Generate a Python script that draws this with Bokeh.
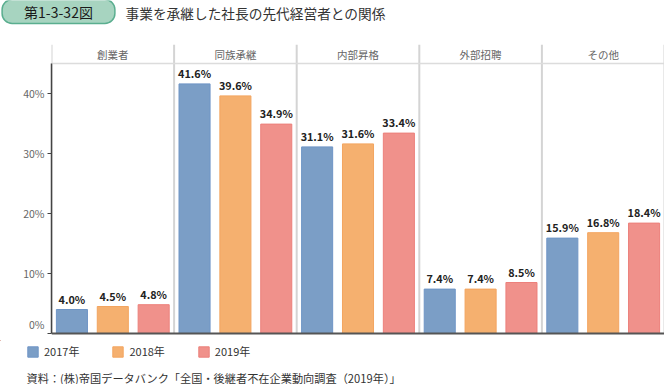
from bokeh.plotting import figure
from bokeh.layouts import column
from bokeh.models import (FactorRange, Range1d, FixedTicker, Label, Legend,
                          LegendItem, ColumnDataSource)
from bokeh.core.properties import value
from bokeh.embed import file_html
from bokeh.resources import INLINE

# ---- data ----
categories = ['創業者', '同族承継', '内部昇格', '外部招聘', 'その他']
years = ['2017年', '2018年', '2019年']
v2017 = [4.0, 41.6, 31.1, 7.4, 15.9]
v2018 = [4.5, 39.6, 31.6, 7.4, 16.8]
v2019 = [4.8, 34.9, 33.4, 8.5, 18.4]
y_ticks = [0, 10, 20, 30, 40]
fig_label = '第1-3-32図'
title_text = '事業を承継した社長の先代経営者との関係'
source_text = '資料：(株)帝国データバンク「全国・後継者不在企業動向調査（2019年）」'

series = [v2017, v2018, v2019]
fills = ['#7b9ec6', '#f5b06f', '#f0918b']
lines = ['#6f95c6', '#f3a560', '#ec807b']

FONT = 'Noto Sans CJK JP'
W = 664
TOP_H, MAIN_H = 44, 296
BOT_H = 384 - TOP_H - MAIN_H
PX = 6.0                      # pixels per percent
Y_MAX = 45
HEADER = 19 / PX              # header band height in data units
Y_TOP = Y_MAX + HEADER
Y_BOT = Y_TOP - MAIN_H / PX   # a little room below zero


def blank(h, y0, y1):
    f = figure(width=W, height=h, output_backend='svg', toolbar_location=None,
               x_range=Range1d(0, W), y_range=Range1d(y0, y1),
               x_axis_type=None, y_axis_type=None,
               min_border_left=0, min_border_right=0, min_border_top=0,
               min_border_bottom=0, frame_align=False)
    f.outline_line_color = None
    f.xgrid.visible = False
    f.ygrid.visible = False
    return f


# ---------- title strip ----------
pt = blank(TOP_H, TOP_H, 0)
pt.add_layout(Label(x=58, y=11, text=fig_label, text_align='center',
                    text_baseline='middle', text_font=FONT, text_font_size='14px',
                    text_color='#1a1a1a', background_fill_color='#a7d4c0',
                    border_line_color='#5aae8f', border_line_width=1.5,
                    border_radius=10, padding=(22, 2)))
pt.add_layout(Label(x=125, y=12, text=title_text, text_align='left',
                    text_baseline='middle', text_font=FONT, text_font_size='13.7px',
                    text_color='#333333'))

# ---------- main chart ----------
p = figure(width=W, height=MAIN_H, output_backend='svg', toolbar_location=None,
           x_range=FactorRange(factors=[(c, y) for c in categories for y in years],
                               range_padding=0, group_padding=0, factor_padding=0,
                               subgroup_padding=0),
           y_range=Range1d(Y_BOT, Y_TOP),
           min_border_left=51, min_border_right=0, min_border_top=0,
           min_border_bottom=0, frame_align=False)
p.outline_line_color = None
p.xgrid.visible = False
p.ygrid.visible = False
p.xaxis.visible = False

n_slots = len(categories) * len(years)
bounds_x = [len(years) * k for k in range(len(categories) + 1)]
p.segment(x0=bounds_x, x1=bounds_x, y0=[0] * len(bounds_x), y1=[Y_TOP] * len(bounds_x),
          line_color='#d4d4d4', line_width=2)
p.segment(x0=[0], x1=[n_slots], y0=[Y_MAX], y1=[Y_MAX], line_color='#dcdcdc',
          line_width=1.5)

for j, vals in enumerate(series):
    src = ColumnDataSource(dict(x=[(c, years[j]) for c in categories], top=vals,
                                lab=[f'{v:.1f}%' for v in vals]))
    p.vbar(x='x', top='top', width=0.76, source=src, fill_color=fills[j],
           line_color=lines[j], line_width=1)
    p.text(x='x', y='top', text='lab', source=src, text_align='center',
           text_baseline='alphabetic', y_offset=-11, text_font=value(FONT),
           text_font_size='10.8px', text_font_style='bold', text_color='#222222')

p.segment(x0=[0], x1=[n_slots], y0=[0], y1=[0], line_color='#555555', line_width=2)

hsrc = ColumnDataSource(dict(x=[(c, years[1]) for c in categories],
                             y=[Y_MAX + HEADER / 2] * len(categories), t=categories))
p.text(x='x', y='y', text='t', source=hsrc, text_align='center', text_baseline='middle',
       text_font=value(FONT), text_font_size='10.5px', text_color='#666666')

ax = p.yaxis[0]
ax.ticker = FixedTicker(ticks=y_ticks)
ax.bounds = (0, Y_MAX)
ax.major_label_overrides = {t: (f'{t}%\n ' if t == 0 else f'{t}%') for t in y_ticks}
ax.major_label_text_line_height = 0.6
ax.axis_line_color = '#444444'
ax.axis_line_width = 1.5
ax.major_tick_line_color = '#444444'
ax.major_tick_out = 4
ax.major_tick_in = 0
ax.minor_tick_line_color = None
ax.major_label_standoff = 3
ax.major_label_text_font = FONT
ax.major_label_text_font_size = '10.5px'
ax.major_label_text_color = '#666666'

# ---------- legend + source strip ----------
pb = blank(BOT_H, 384, 384 - BOT_H)
items = []
for j in range(len(years)):
    # legend swatch renderer: one bar placed far outside the visible strip
    r = pb.vbar(x=[-5000], top=[-5000], bottom=[-5001], width=1, fill_color=fills[j],
                line_color=lines[j], line_width=1)
    items.append(LegendItem(label=years[j], renderers=[r]))
legend = Legend(items=items, orientation='horizontal', location=(26, 25),
                glyph_width=13, glyph_height=13, label_height=13, label_standoff=5,
                spacing=32, padding=0, margin=0, border_line_color=None,
                background_fill_alpha=0, label_text_font=FONT,
                label_text_font_size='11px', label_text_color='#333333')
pb.add_layout(legend, 'center')
pb.add_layout(Label(x=26, y=377, text=source_text, text_align='left',
                    text_baseline='middle', text_font=FONT, text_font_size='11.2px',
                    text_color='#333333'))

layout = column(pt, p, pb, spacing=0)
open('out.html', 'w').write(file_html(layout, INLINE))
